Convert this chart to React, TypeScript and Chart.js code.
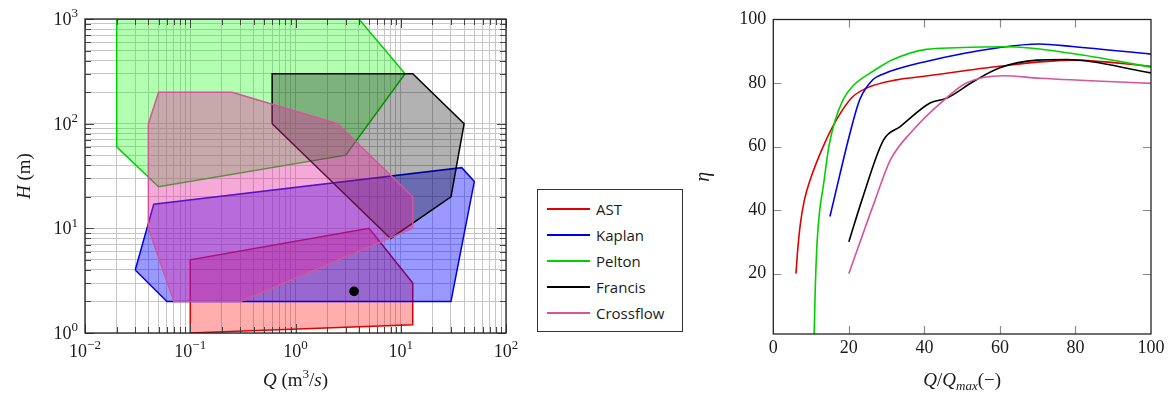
import React, { useEffect, useRef } from "react";
import { Chart, registerables } from "chart.js";

Chart.register(...registerables);

// ---------------- data ----------------
const SERIES = ["AST", "Kaplan", "Pelton", "Francis", "Crossflow"];

// application ranges: polygon vertices (Q in m3/s, H in m)
const AST_RANGE_Q = [0.1, 0.1, 5, 13, 13, 0.1];
const AST_RANGE_H = [1, 5, 10, 3, 1.2, 1];
const KAPLAN_RANGE_Q = [0.03, 0.045, 38, 50, 30, 0.06, 0.03];
const KAPLAN_RANGE_H = [4, 17, 38, 28, 2, 2, 4];
const PELTON_RANGE_Q = [0.02, 0.02, 4, 11, 3, 0.05, 0.02];
const PELTON_RANGE_H = [60, 1000, 1000, 300, 50, 25, 60];
const FRANCIS_RANGE_Q = [0.6, 0.6, 13, 40, 30, 8, 0.6];
const FRANCIS_RANGE_H = [100, 300, 300, 100, 20, 8, 100];
const CROSSFLOW_RANGE_Q = [0.04, 0.05, 0.25, 2.5, 13, 13, 0.3, 0.07, 0.04, 0.04];
const CROSSFLOW_RANGE_H = [100, 200, 200, 100, 20, 10, 2, 2, 10, 100];

// site operating point
const SITE_Q = [3.6];
const SITE_H = [2.5];

// efficiency curves (Q/Qmax in %, eta in %)
const AST_LOAD = [6, 6.5, 7.2, 8.2, 9.9, 13.2, 16.7, 20.7, 24.7, 32.6, 40.5, 59.9, 79.2, 100];
const AST_ETA = [20, 28, 36, 43, 50, 60, 68.4, 75.3, 78.4, 81, 82.2, 85.3, 87.2, 85.3];
const KAPLAN_LOAD = [15, 16, 20.3, 22.9, 26.4, 29, 40.5, 60, 70.4, 79.2, 100];
const KAPLAN_ETA = [38, 43, 64.2, 74.8, 81.1, 82.8, 86.8, 91.2, 92.3, 91.5, 89.1];
const PELTON_LOAD = [10.8, 11.1, 11.6, 12.3, 13.3, 14.7, 16.3, 18.6, 21, 26.4, 31.7, 40.5, 48.4, 61.6, 79.2, 100];
const PELTON_ETA = [0, 15, 30, 40, 48, 60, 68, 75, 79, 83.7, 87.4, 90.6, 91.1, 91.4, 89.3, 85];
const FRANCIS_LOAD = [20, 23.5, 29.2, 33.6, 41.5, 46, 53, 60, 69.8, 77.7, 100];
const FRANCIS_ETA = [30, 43.3, 62.1, 66.3, 73.7, 75.3, 80.5, 84.8, 87.2, 87.4, 83.2];
const CROSSFLOW_LOAD = [20, 27, 31, 37.1, 44.2, 51.1, 60.8, 70.6, 100];
const CROSSFLOW_ETA = [20, 43.3, 55.8, 65.3, 73.6, 80, 82.3, 81.5, 79.9];

// ticks
const Q_DECADES = [-2, -1, 0, 1, 2];
const H_DECADES = [0, 1, 2, 3];
const LOAD_TICKS = [0, 20, 40, 60, 80, 100];
const ETA_TICKS = [20, 40, 60, 80, 100];

// ---------------- styles ----------------
const RANGES_Q = [AST_RANGE_Q, KAPLAN_RANGE_Q, PELTON_RANGE_Q, FRANCIS_RANGE_Q, CROSSFLOW_RANGE_Q];
const RANGES_H = [AST_RANGE_H, KAPLAN_RANGE_H, PELTON_RANGE_H, FRANCIS_RANGE_H, CROSSFLOW_RANGE_H];
const LOADS = [AST_LOAD, KAPLAN_LOAD, PELTON_LOAD, FRANCIS_LOAD, CROSSFLOW_LOAD];
const ETAS = [AST_ETA, KAPLAN_ETA, PELTON_ETA, FRANCIS_ETA, CROSSFLOW_ETA];

const LINE_COLORS = ["#e00000", "#0000e6", "#00d000", "#000000", "#d4559b"];
const FILL_COLORS = [
  "rgba(255,0,0,0.32)",
  "rgba(0,0,255,0.4)",
  "rgba(0,255,0,0.3)",
  "rgba(0,0,0,0.3)",
  "rgba(230,40,160,0.4)",
];

const SERIF = '"Liberation Serif", "Times New Roman", serif';
const SANS = '"Open Sans", "Noto Sans", sans-serif';

type Part = { t: string; it?: boolean; sup?: boolean; sub?: boolean };

function fontFor(p: Part, size: number) {
  const s = p.sup || p.sub ? Math.round(size * 0.7) : size;
  return `${p.it ? "italic " : ""}${s}px ${SERIF}`;
}

function richWidth(ctx: CanvasRenderingContext2D, parts: Part[], size: number) {
  let w = 0;
  for (const p of parts) {
    ctx.font = fontFor(p, size);
    w += ctx.measureText(p.t).width;
  }
  return w;
}

function drawRich(
  ctx: CanvasRenderingContext2D,
  parts: Part[],
  x: number,
  y: number,
  size: number,
  align: "left" | "center" | "right",
  rot = 0,
  color = "#1a1a1a"
) {
  ctx.save();
  ctx.translate(x, y);
  if (rot) ctx.rotate(rot);
  const w = richWidth(ctx, parts, size);
  let cx = align === "center" ? -w / 2 : align === "right" ? -w : 0;
  ctx.textAlign = "left";
  ctx.textBaseline = "alphabetic";
  ctx.fillStyle = color;
  for (const p of parts) {
    ctx.font = fontFor(p, size);
    const dy = p.sup ? -size * 0.42 : p.sub ? size * 0.22 : 0;
    ctx.fillText(p.t, cx, dy);
    cx += ctx.measureText(p.t).width;
  }
  ctx.restore();
}

function logTicks(decades: number[]) {
  const out: { value: number; major: boolean }[] = [];
  for (let i = 0; i < decades.length; i++) {
    const base = Math.pow(10, decades[i]);
    out.push({ value: base, major: true });
    if (i < decades.length - 1) {
      for (let m = 2; m <= 9; m++) out.push({ value: m * base, major: false });
    }
  }
  return out;
}

function powLabel(p: number): Part[] {
  return [{ t: "10" }, { t: p < 0 ? "\u2212" + Math.abs(p) : String(p), sup: true }];
}

// ---------------- left chart plugin ----------------
const leftDecor = {
  id: "leftDecor",
  afterDraw(chart: any) {
    const { ctx, chartArea: a } = chart;
    const xs = chart.scales.x;
    const ys = chart.scales.y;
    ctx.save();
    ctx.strokeStyle = "#444";
    ctx.lineWidth = 1;
    for (const t of logTicks(Q_DECADES)) {
      const px = Math.round(xs.getPixelForValue(t.value)) + 0.5;
      const len = t.major ? 9 : 6;
      ctx.beginPath();
      ctx.moveTo(px, a.bottom);
      ctx.lineTo(px, a.bottom - len);
      ctx.moveTo(px, a.top);
      ctx.lineTo(px, a.top + len);
      ctx.stroke();
    }
    for (const t of logTicks(H_DECADES)) {
      const py = Math.round(ys.getPixelForValue(t.value)) + 0.5;
      const len = t.major ? 9 : 6;
      ctx.beginPath();
      ctx.moveTo(a.left, py);
      ctx.lineTo(a.left + len, py);
      ctx.moveTo(a.right, py);
      ctx.lineTo(a.right - len, py);
      ctx.stroke();
    }
    ctx.strokeStyle = "#222";
    ctx.lineWidth = 1.3;
    ctx.strokeRect(a.left, a.top, a.right - a.left, a.bottom - a.top);

    for (const p of Q_DECADES) {
      drawRich(ctx, powLabel(p), xs.getPixelForValue(Math.pow(10, p)), a.bottom + 24, 18, "center");
    }
    for (const p of H_DECADES) {
      drawRich(ctx, powLabel(p), a.left - 7, ys.getPixelForValue(Math.pow(10, p)) + 6, 18, "right");
    }
    drawRich(
      ctx,
      [{ t: "Q", it: true }, { t: " (m" }, { t: "3", sup: true }, { t: "/" }, { t: "s", it: true }, { t: ")" }],
      (a.left + a.right) / 2,
      386,
      19,
      "center"
    );
    drawRich(ctx, [{ t: "H", it: true }, { t: " (m)" }], 30, (a.top + a.bottom) / 2, 19, "center", -Math.PI / 2);
    ctx.restore();
  },
};

// ---------------- right chart plugin ----------------
const rightDecor = {
  id: "rightDecor",
  afterDraw(chart: any) {
    const { ctx, chartArea: a } = chart;
    const xs = chart.scales.x;
    const ys = chart.scales.y;
    ctx.save();
    ctx.strokeStyle = "#8a8a8a";
    ctx.lineWidth = 1.2;
    for (const v of LOAD_TICKS) {
      if (v <= 0 || v >= 100) continue;
      const px = Math.round(xs.getPixelForValue(v)) + 0.5;
      ctx.beginPath();
      ctx.moveTo(px, a.bottom);
      ctx.lineTo(px, a.bottom - 8);
      ctx.moveTo(px, a.top);
      ctx.lineTo(px, a.top + 8);
      ctx.stroke();
    }
    for (const v of ETA_TICKS) {
      if (v >= 100) continue;
      const py = Math.round(ys.getPixelForValue(v)) + 0.5;
      ctx.beginPath();
      ctx.moveTo(a.left, py);
      ctx.lineTo(a.left + 8, py);
      ctx.moveTo(a.right, py);
      ctx.lineTo(a.right - 8, py);
      ctx.stroke();
    }
    ctx.strokeStyle = "#222";
    ctx.lineWidth = 1.3;
    ctx.strokeRect(a.left, a.top, a.right - a.left, a.bottom - a.top);
    drawRich(
      ctx,
      [{ t: "Q", it: true }, { t: "/" }, { t: "Q", it: true }, { t: "max", it: true, sub: true }, { t: "(\u2212)" }],
      (a.left + a.right) / 2,
      386,
      19,
      "center"
    );
    drawRich(ctx, [{ t: "\u03B7", it: true }], a.left - 64, (a.top + a.bottom) / 2, 20, "center", -Math.PI / 2);
    ctx.restore();
  },
};

// ---------------- component ----------------
const LEFT_W = 530;
const RIGHT_X = 690;
const RIGHT_W = 483;
const H = 397;

export default function App() {
  const leftRef = useRef<HTMLCanvasElement | null>(null);
  const rightRef = useRef<HTMLCanvasElement | null>(null);

  useEffect(() => {
    const n = SERIES.length;
    const polyDatasets: any[] = SERIES.map((name, i) => ({
      label: name,
      data: RANGES_Q[i].map((q, j) => ({ x: q, y: RANGES_H[i][j] })),
      borderColor: LINE_COLORS[i],
      backgroundColor: FILL_COLORS[i],
      borderWidth: 1.5,
      fill: "shape",
      pointRadius: 0,
      tension: 0,
      order: n - i,
    }));
    polyDatasets.push({
      label: "site",
      data: SITE_Q.map((q, j) => ({ x: q, y: SITE_H[j] })),
      showLine: false,
      pointRadius: 4.8,
      pointBackgroundColor: "#000",
      pointBorderColor: "#000",
      borderWidth: 0,
      fill: false,
      order: 0,
    });

    const left = new Chart(leftRef.current as HTMLCanvasElement, {
      type: "line",
      data: { datasets: polyDatasets },
      options: {
        animation: false,
        responsive: false,
        devicePixelRatio: 1,
        layout: { padding: { top: 19, right: LEFT_W - 506, left: 0, bottom: 0 } },
        plugins: { legend: { display: false }, tooltip: { enabled: false } },
        scales: {
          x: {
            type: "logarithmic",
            min: 0.01,
            max: 100,
            afterBuildTicks: (s: any) => {
              s.ticks = logTicks(Q_DECADES).map((t) => ({ value: t.value, major: t.major }));
            },
            afterFit: (s: any) => {
              s.height = H - 333;
            },
            ticks: { display: false, autoSkip: false },
            grid: { color: "#c6c6c6", lineWidth: 1, drawTicks: false },
            border: { display: false },
          },
          y: {
            type: "logarithmic",
            min: 1,
            max: 1000,
            afterBuildTicks: (s: any) => {
              s.ticks = logTicks(H_DECADES).map((t) => ({ value: t.value, major: t.major }));
            },
            afterFit: (s: any) => {
              s.width = 85;
            },
            ticks: { display: false, autoSkip: false },
            grid: { color: "#c6c6c6", lineWidth: 1, drawTicks: false },
            border: { display: false },
          },
        },
      } as any,
      plugins: [leftDecor],
    });

    const right = new Chart(rightRef.current as HTMLCanvasElement, {
      type: "line",
      data: {
        datasets: SERIES.map((name, i) => ({
          label: name,
          data: LOADS[i].map((x, j) => ({ x, y: ETAS[i][j] })),
          borderColor: LINE_COLORS[i],
          borderWidth: 1.6,
          pointRadius: 0,
          fill: false,
          cubicInterpolationMode: "monotone",
          order: n - i,
        })),
      },
      options: {
        animation: false,
        responsive: false,
        devicePixelRatio: 1,
        layout: { padding: { top: 19.5, right: RIGHT_W - (1151 - RIGHT_X), left: 0, bottom: 0 } },
        plugins: { legend: { display: false }, tooltip: { enabled: false } },
        scales: {
          x: {
            type: "linear",
            min: 0,
            max: 100,
            afterBuildTicks: (s: any) => {
              s.ticks = LOAD_TICKS.map((v) => ({ value: v }));
            },
            afterFit: (s: any) => {
              s.height = H - 334;
            },
            ticks: { font: { family: SERIF, size: 18 }, color: "#1a1a1a", padding: 3, maxRotation: 0 },
            grid: { display: false, drawTicks: false },
            border: { display: false },
          },
          y: {
            type: "linear",
            min: 1,
            max: 100,
            afterBuildTicks: (s: any) => {
              s.ticks = ETA_TICKS.map((v) => ({ value: v }));
            },
            afterFit: (s: any) => {
              s.width = 773.3 - RIGHT_X;
            },
            ticks: { font: { family: SERIF, size: 18 }, color: "#1a1a1a", padding: 7 },
            grid: { display: false, drawTicks: false },
            border: { display: false },
          },
        },
      } as any,
      plugins: [rightDecor],
    });

    return () => {
      left.destroy();
      right.destroy();
    };
  }, []);

  return (
    <div style={{ position: "fixed", left: 0, top: 0, width: 1173, height: H, background: "#fff" }}>
      <canvas
        ref={leftRef}
        width={LEFT_W}
        height={H}
        style={{ position: "absolute", left: 0, top: 0, width: LEFT_W, height: H }}
      />
      <canvas
        ref={rightRef}
        width={RIGHT_W}
        height={H}
        style={{ position: "absolute", left: RIGHT_X, top: 0, width: RIGHT_W, height: H }}
      />
      <div
        style={{
          position: "absolute",
          left: 537,
          top: 189,
          width: 144,
          height: 141,
          border: "1.3px solid #333",
          background: "#fff",
          fontFamily: SANS,
          fontSize: 15,
          color: "#1a1a1a",
        }}
      >
        {SERIES.map((name, i) => (
          <div
            key={name}
            style={{ position: "absolute", left: 0, top: 19 + i * 26 - 11, height: 22, width: 144, display: "flex", alignItems: "center" }}
          >
            <span
              style={{ display: "inline-block", marginLeft: 9, width: 43, height: 2, background: LINE_COLORS[i] }}
            />
            <span style={{ marginLeft: 6, lineHeight: "22px" }}>{name}</span>
          </div>
        ))}
      </div>
    </div>
  );
}
